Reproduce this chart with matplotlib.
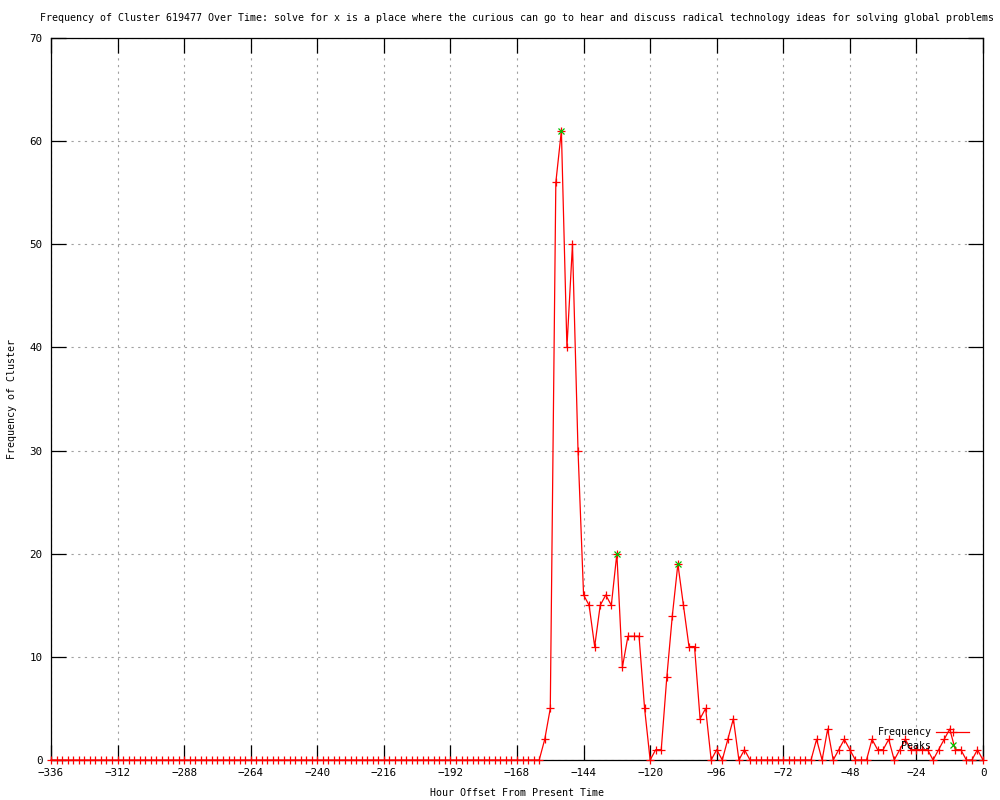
import numpy as np
import matplotlib
matplotlib.use('Agg')
import matplotlib.pyplot as plt

plt.rcParams['font.family'] = 'DejaVu Sans Mono'

# hours before now, one sample every 2 hours
hours = np.arange(-336, 1, 2)

freq = [
    # -336 .. -160
    0, 0, 0, 0, 0, 0, 0, 0, 0, 0, 0, 0, 0, 0, 0, 0, 0, 0, 0, 0,
    0, 0, 0, 0, 0, 0, 0, 0, 0, 0, 0, 0, 0, 0, 0, 0, 0, 0, 0, 0,
    0, 0, 0, 0, 0, 0, 0, 0, 0, 0, 0, 0, 0, 0, 0, 0, 0, 0, 0, 0,
    0, 0, 0, 0, 0, 0, 0, 0, 0, 0, 0, 0, 0, 0, 0, 0, 0, 0, 0, 0,
    0, 0, 0, 0, 0, 0, 0, 0, 0,
    # -158 .. -84
    2, 5, 56, 61, 40, 50, 30, 16, 15, 11, 15, 16, 15, 20, 9, 12, 12, 12, 5, 0,
    1, 1, 8, 14, 19, 15, 11, 11, 4, 5, 0, 1, 0, 2, 4, 0, 1, 0,
    # -82 .. -62
    0, 0, 0, 0, 0, 0, 0, 0, 0, 0, 0,
    # -60 .. 0
    2, 0, 3, 0, 1, 2, 1, 0, 0, 0, 2, 1, 1, 2, 0, 1, 2, 1, 1, 1,
    1, 0, 1, 2, 3, 1, 1, 0, 0, 1, 0,
]

peak_hours = [-152, -132, -110]
peak_vals = [61, 20, 19]

xticks = list(range(-336, 1, 24))
yticks = list(range(0, 71, 10))

fig = plt.figure(figsize=(10, 8), dpi=100)
ax = fig.add_axes([0.051, 0.05, 0.932, 0.9025])

ax.plot(hours, freq, color='red', lw=0.9, marker='+', ms=6, mew=0.9,
        label='Frequency', clip_on=False, zorder=3)
ax.plot(peak_hours, peak_vals, ls='none', color='#00c000', marker='x', ms=5,
        mew=0.9, label='    Peaks', clip_on=False, zorder=4)

ax.set_xlim(-336, 0)
ax.set_ylim(0, 70)
ax.set_xticks(xticks)
ax.set_yticks(yticks)
ax.tick_params(direction='in', length=11, width=0.9, top=True, right=True,
               labelsize=7.8, pad=6, color='black')
ax.grid(True, color='#a0a0a0', ls=(0, (2, 4)), lw=0.8)
for s in ax.spines.values():
    s.set_linewidth(0.9)

ax.set_title('Frequency of Cluster 619477 Over Time: solve for x is a place where the '
             'curious can go to hear and discuss radical technology ideas for solving '
             'global problems', fontsize=7.2, pad=12)
ax.set_xlabel('Hour Offset From Present Time', fontsize=7.2)
ax.set_ylabel('Frequency of Cluster', fontsize=7.2)
ax.xaxis.set_label_coords(0.5, -0.039)
ax.yaxis.set_label_coords(-0.036, 0.5)

ax.legend(loc='lower right', bbox_to_anchor=(0.993, 0.003), frameon=False,
          markerfirst=False, fontsize=7.2, handlelength=3.3, labelspacing=0.35,
          handletextpad=0.5, borderpad=0.2)

fig.savefig('out.png', dpi=100)
